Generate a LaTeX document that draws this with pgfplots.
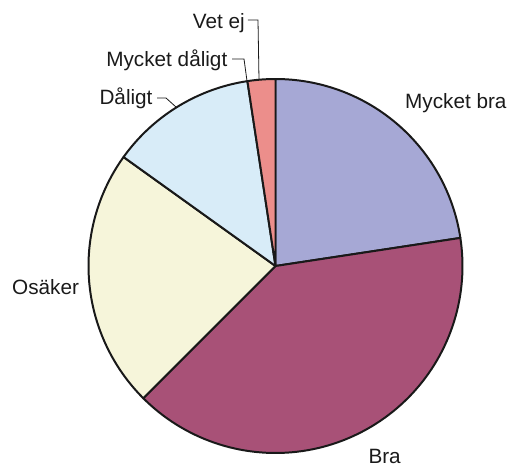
\documentclass[border=0pt]{standalone}
\usepackage{pgfplots}
\pgfplotsset{compat=1.18}
\usepackage{fontspec}
\setmainfont{Liberation Sans}
\definecolor{cMB}{HTML}{A6A8D5}
\definecolor{cBra}{HTML}{A85177}
\definecolor{cOs}{HTML}{F6F5DA}
\definecolor{cDa}{HTML}{D8ECF8}
\definecolor{cMD}{HTML}{6E7FB0}
\definecolor{cVE}{HTML}{EC8E8B}
\definecolor{txt}{HTML}{1A1A1A}
% shares in percent
\def\vMB{22.6}
\def\vBra{39.9}
\def\vOs{22.4}
\def\vDa{12.7}
\def\vMD{0.0}
\def\vVE{2.4}
\pgfmathsetmacro\aA{90}
\pgfmathsetmacro\aB{\aA-3.6*\vMB}
\pgfmathsetmacro\aC{\aB-3.6*\vBra}
\pgfmathsetmacro\aD{\aC-3.6*\vOs}
\pgfmathsetmacro\aE{\aD-3.6*\vDa}
\pgfmathsetmacro\aF{\aE-3.6*\vMD}
\pgfmathsetmacro\aG{\aF-3.6*\vVE}
\begin{document}
\begin{tikzpicture}
\begin{axis}[
  hide axis, scale only axis,
  width=511bp, height=468bp,
  xmin=-1.4733, xmax=1.2594, ymin=-1.0802, ymax=1.4225,
  clip=false,
  every axis plot/.append style={draw=black!90, line width=2pt, line join=round, samples=90, variable=\t},
]
\addplot[draw=none, forget plot] coordinates {(-1.4733,-1.0802) (1.2594,1.4225)};
\addplot[fill=cMB, domain=\aB:\aA] ({cos(\t)},{sin(\t)}) -- (axis cs:0,0) -- cycle;
\addplot[fill=cBra, domain=\aC:\aB] ({cos(\t)},{sin(\t)}) -- (axis cs:0,0) -- cycle;
\addplot[fill=cOs, domain=\aD:\aC] ({cos(\t)},{sin(\t)}) -- (axis cs:0,0) -- cycle;
\addplot[fill=cDa, domain=\aE:\aD] ({cos(\t)},{sin(\t)}) -- (axis cs:0,0) -- cycle;
\addplot[fill=cVE, domain=\aG:\aF] ({cos(\t)},{sin(\t)}) -- (axis cs:0,0) -- cycle;
% leaders
\draw[line width=0.8pt, txt] (axis cs:-0.2326,1.107) -- (axis cs:-0.1684,1.107) -- (axis cs:-0.1524,0.9893);
\draw[line width=0.8pt, txt] (axis cs:-0.6337,0.8984) -- (axis cs:-0.5856,0.8984) -- (axis cs:-0.5321,0.8503);
\draw[line width=0.8pt, txt] (axis cs:-0.1471,1.3155) -- (axis cs:-0.0936,1.3155) -- (axis cs:-0.0882,0.9947);
% labels
\begin{scope}[every node/.style={inner sep=0pt, text=txt, font=\fontsize{20.8}{24}\selectfont}]
\node[anchor=base west] at (axis cs:0.6925,0.8433) {Mycket bra};
\node[anchor=base west] at (axis cs:0.4963,-1.058) {Bra};
\node[anchor=base west] at (axis cs:-1.409,-0.155) {Osäker};
\node[anchor=base east] at (axis cs:-0.6567,0.861) {Dåligt};
\node[anchor=base east] at (axis cs:-0.2567,1.0658) {Mycket dåligt};
\node[anchor=base east] at (axis cs:-0.1631,1.270) {Vet ej};
\end{scope}
\end{axis}
\end{tikzpicture}
\end{document}
